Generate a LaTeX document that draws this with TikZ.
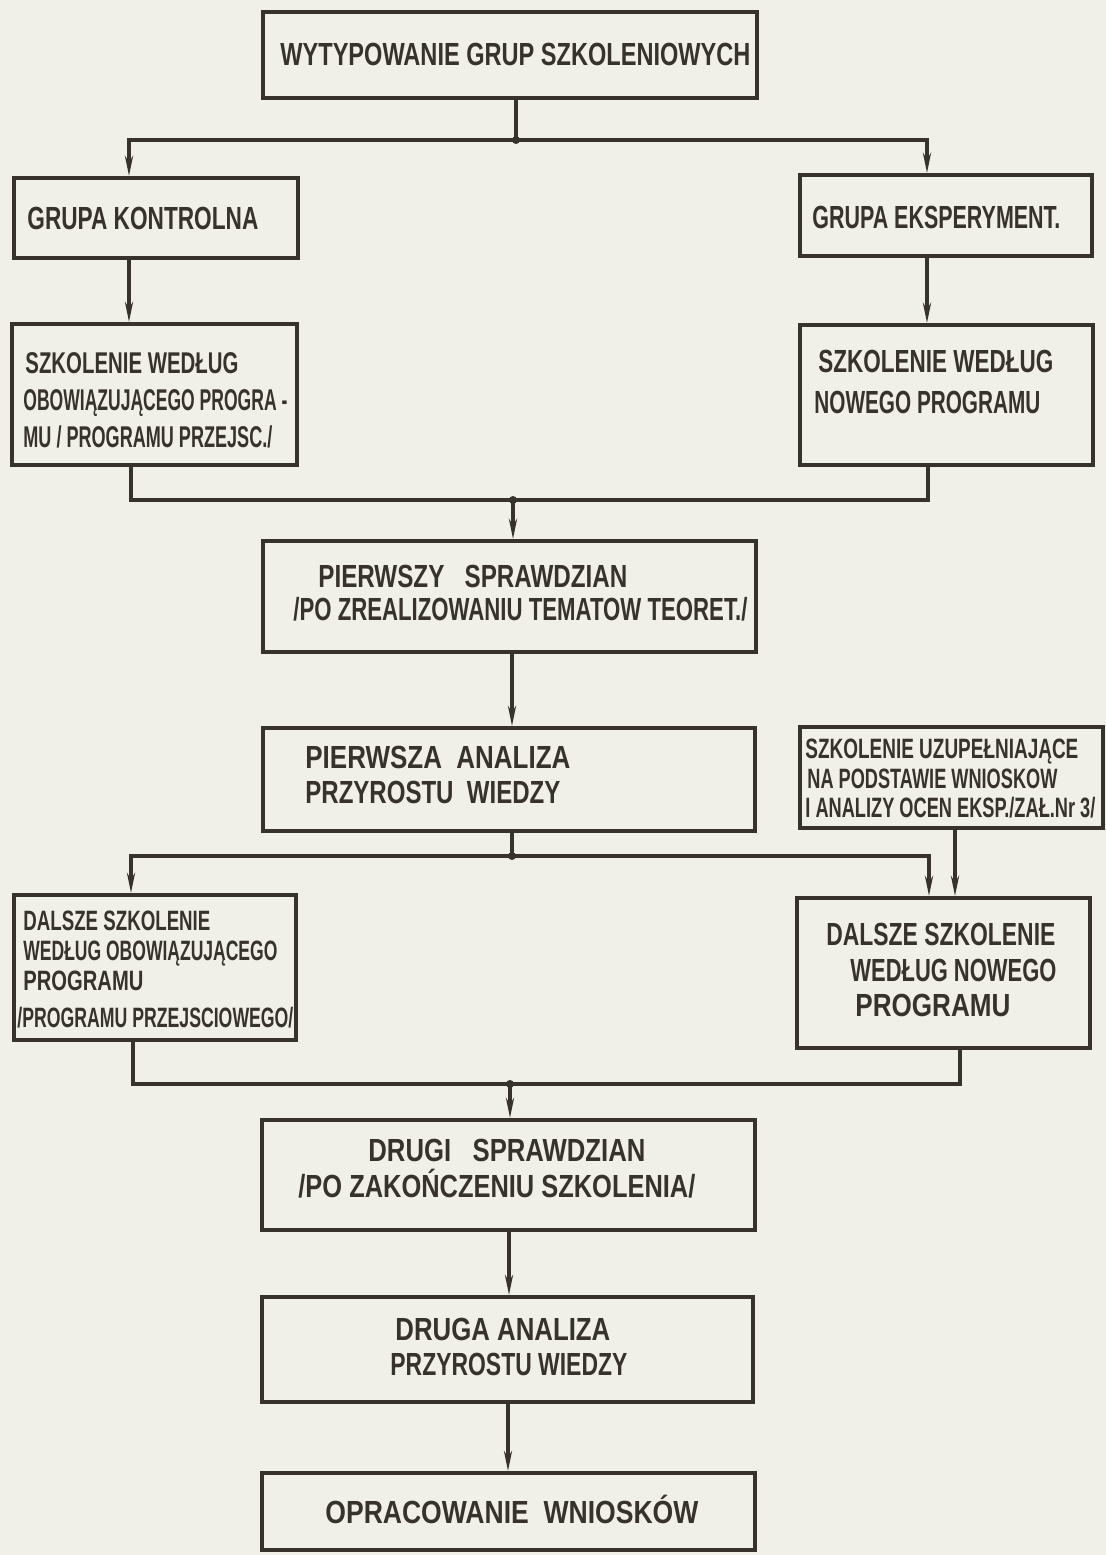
\documentclass[tikz,border=0pt]{standalone}
\usepackage{fontspec}
\setmainfont{Liberation Sans}
\usepackage{graphicx}
\usetikzlibrary{fit,arrows.meta}
\definecolor{paper}{RGB}{241,240,232}
\definecolor{ink}{RGB}{55,50,43}
\tikzset{
  boxnode/.style={draw=ink,line width=2pt,inner sep=0pt},
  txt/.style={inner sep=0pt,text=ink,font=\fontsize{16}{19}\bfseries\selectfont},
  small/.style={font=\fontsize{14}{16}\bfseries\selectfont},
  conn/.style={draw=ink,line width=1.6pt},
  arr/.style={conn,-{Stealth[length=10pt,width=4pt]}},
  jdot/.style={circle,fill=ink,inner sep=0pt,minimum size=4pt}
}
\newcommand\lab[6][]{\node[txt,#1,anchor=base west] (#2) at (#3,#4) {\resizebox{#5pt}{\height}{#6}};}
\begin{document}
\begin{tikzpicture}[x=0.5pt,y=-0.5pt]
\fill[paper] (0,0) rectangle (1106,1555);
\useasboundingbox (0,0) rectangle (1106,1555);
% boxes
\node[boxnode,fit={(263,12)(757,98)}] (b1) {};
\node[boxnode,fit={(14,178)(298,258)}] (b2) {};
\node[boxnode,fit={(800,175)(1092,256)}] (b3) {};
\node[boxnode,fit={(12,324)(297,465)}] (b4) {};
\node[boxnode,fit={(800,325)(1093,465)}] (b5) {};
\node[boxnode,fit={(263,541)(756,652)}] (b6) {};
\node[boxnode,fit={(263,728)(755,831)}] (b7) {};
\node[boxnode,fit={(800,727)(1103,828)}] (b8) {};
\node[boxnode,fit={(14,895)(296,1040)}] (b9) {};
\node[boxnode,fit={(797,898)(1090,1048)}] (b10) {};
\node[boxnode,fit={(262,1120)(755,1230)}] (b11) {};
\node[boxnode,fit={(262,1297)(753,1402)}] (b12) {};
\node[boxnode,fit={(262,1473)(755,1550)}] (b13) {};
% texts
\lab{t1}{280}{65}{235}{WYTYPOWANIE GRUP SZKOLENIOWYCH}
\lab{t2}{27}{229}{115.5}{GRUPA KONTROLNA}
\lab{t3}{812}{228}{124}{GRUPA EKSPERYMENT.}
\lab[font=\fontsize{15}{17}\bfseries\selectfont]{t4a}{25}{373}{106.5}{SZKOLENIE  WEDŁUG}
\lab[font=\fontsize{15}{17}\bfseries\selectfont]{t4b}{23}{410}{132}{OBOWIĄZUJĄCEGO PROGRA -}
\lab[font=\fontsize{15}{17}\bfseries\selectfont]{t4c}{23}{447}{124.5}{MU / PROGRAMU PRZEJSC./}
\lab{t5a}{818}{372}{117.5}{SZKOLENIE WEDŁUG}
\lab{t5b}{814}{413}{113}{NOWEGO PROGRAMU}
\lab{t6a}{318}{587}{154.5}{PIERWSZY\ \ \ SPRAWDZIAN}
\lab{t6b}{293}{620}{227}{/PO  ZREALIZOWANIU TEMATOW TEORET./}
\lab{t7a}{305}{768}{132.5}{PIERWSZA\ \ ANALIZA}
\lab{t7b}{305}{803}{127.5}{PRZYROSTU\ \ WIEDZY}
\lab[small]{t8a}{805}{758}{136.5}{SZKOLENIE  UZUPEŁNIAJĄCE}
\lab[small]{t8b}{807}{788}{125}{NA PODSTAWIE  WNIOSKOW}
\lab[small]{t8c}{805}{817}{145}{I ANALIZY OCEN  EKSP./ZAŁ.Nr 3/}
\lab[small]{t9a}{23}{930}{93.5}{DALSZE  SZKOLENIE}
\lab[small]{t9b}{23}{960}{127}{WEDŁUG OBOWIĄZUJĄCEGO}
\lab[small]{t9c}{23}{990}{60}{PROGRAMU}
\lab[small]{t9d}{17}{1027}{138}{/PROGRAMU PRZEJSCIOWEGO/}
\lab{t10a}{826}{945}{114.5}{DALSZE  SZKOLENIE}
\lab{t10b}{850}{981}{103}{WEDŁUG NOWEGO}
\lab{t10c}{855}{1016}{77.5}{PROGRAMU}
\lab{t11a}{368}{1161}{138.5}{DRUGI\ \ \ SPRAWDZIAN}
\lab{t11b}{298}{1197}{198.5}{/PO ZAKOŃCZENIU SZKOLENIA/}
\lab{t12a}{395}{1340}{107.5}{DRUGA ANALIZA}
\lab{t12b}{390}{1375}{118.5}{PRZYROSTU WIEDZY}
\lab{t13}{325}{1523}{186.5}{OPRACOWANIE\ \ WNIOSKÓW}
% junctions
\node[jdot] (j1) at (516,140) {};
\node[jdot] (j2) at (513,500) {};
\node[jdot] (j3) at (512,856) {};
\node[jdot] (j4) at (510,1084) {};
% connectors
\draw[conn] (516,0 |- b1.south) -- (j1.center);
\draw[arr] (j1.center) -| (129,0 |- b2.north);
\draw[arr] (j1.center) -| (927,0 |- b3.north);
\draw[arr] (129,0 |- b2.south) -- (129,0 |- b4.north);
\draw[arr] (927,0 |- b3.south) -- (927,0 |- b5.north);
\draw[conn] (131,0 |- b4.south) |- (j2.center) -| (928,0 |- b5.south);
\draw[arr] (j2.center) -- (513,0 |- b6.north);
\draw[arr] (512,0 |- b6.south) -- (512,0 |- b7.north);
\draw[conn] (512,0 |- b7.south) -- (j3.center);
\draw[arr] (j3.center) -| (131,0 |- b9.north);
\draw[arr] (j3.center) -| (929,0 |- b10.north);
\draw[arr] (955,0 |- b8.south) -- (955,0 |- b10.north);
\draw[conn] (133,0 |- b9.south) |- (j4.center) -| (960,0 |- b10.south);
\draw[arr] (j4.center) -- (510,0 |- b11.north);
\draw[arr] (509,0 |- b11.south) -- (509,0 |- b12.north);
\draw[arr] (508,0 |- b12.south) -- (508,0 |- b13.north);
\end{tikzpicture}
\end{document}
